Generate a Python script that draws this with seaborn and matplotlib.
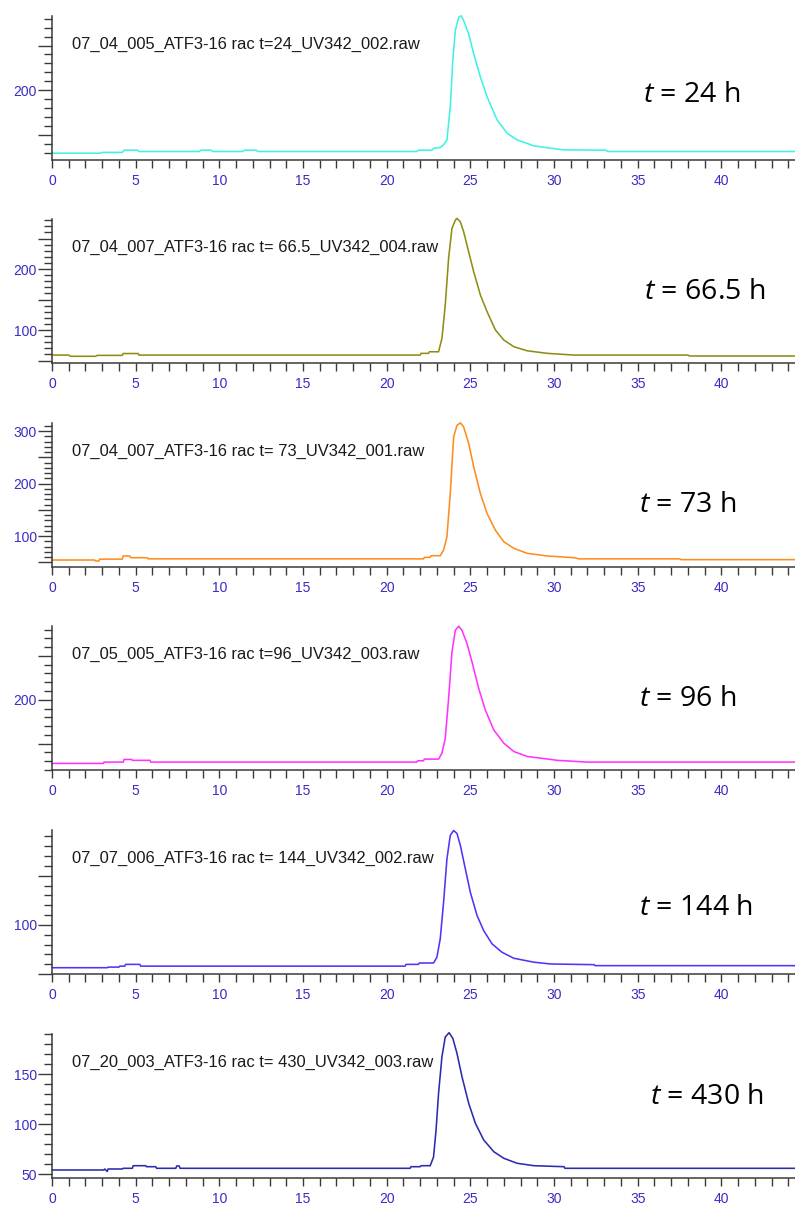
import numpy as np
import pandas as pd
import matplotlib
matplotlib.use('Agg')
import matplotlib.pyplot as plt
from matplotlib.ticker import MultipleLocator, FuncFormatter
import seaborn as sns

# retention time (min) and UV342 signal
t24_time = [0, 2.9, 3.0, 4.2, 4.3, 5.1, 5.2, 8.8, 8.9, 9.5, 9.6, 11.4, 11.5, 12.2, 12.3,
            21.8, 21.9, 22.7, 22.8, 23.2, 23.4, 23.6, 23.8, 23.95, 24.1, 24.3, 24.45,
            24.6, 24.9, 25.2, 25.6, 26.0, 26.6, 27.2, 27.8, 28.8, 29.8, 30.6, 33.1, 33.2, 44.5]
t24_signal = [129.6, 129.6, 130.5, 130.5, 133, 133, 131.5, 131.5, 133, 133, 131.5, 131.5, 133, 133, 131.5,
              131.5, 133, 133, 135, 136, 139, 144.4, 181.5, 233, 266.7, 281.5, 283.3,
              277.8, 263, 240.7, 214.8, 192.6, 166.7, 151.9, 144.4, 137.8, 135.2, 133.3, 133, 131.5, 131.5]

t66_time = [0, 1.0, 1.1, 2.6, 2.7, 4.2, 4.25, 5.15, 5.2,
            22.0, 22.05, 22.5, 22.55, 23.1,
            23.3, 23.5, 23.7, 23.9, 24.1, 24.2, 24.4, 24.6, 24.9, 25.2, 25.6, 26.0, 26.5,
            27.0, 27.6, 28.4, 29.6, 31.2, 38.0, 38.1, 44.5]
t66_signal = [59, 59, 57, 57, 58.5, 58.5, 61.5, 61.5, 59,
              59, 61.8, 61.8, 64.4, 64.4,
              86, 141, 217.5, 266.7, 280, 283, 277.5, 261, 228, 195.6, 157.4, 130, 100,
              83.6, 72.7, 66, 61.8, 59, 59, 57.5, 57.5]

t73_time = [0, 2.55, 2.6, 2.8, 2.85, 4.2, 4.25, 4.65, 4.7, 5.7, 5.75,
            22.2, 22.25, 22.6, 22.65, 23.2,
            23.4, 23.6, 23.8, 24.0, 24.2, 24.4, 24.6, 24.9, 25.2, 25.6, 26.0, 26.5,
            27.0, 27.6, 28.4, 29.6, 31.2, 31.5, 37.5, 37.6, 44.5]
t73_signal = [54.3, 54.3, 52.5, 52.5, 56, 56, 62, 62, 58.7, 58.7, 56.5,
              56.5, 59.4, 59.4, 62.5, 62.5,
              73.3, 98.7, 181, 289, 311, 315.8, 308, 276.6, 232, 181, 143, 111,
              89, 76.6, 67, 62, 58.7, 56.5, 56.5, 55, 55]

t96_time = [0, 3.08, 3.1, 4.27, 4.3, 4.76, 4.8, 5.86, 5.9,
            21.8, 21.85, 22.2, 22.25, 23.1,
            23.3, 23.5, 23.7, 23.9, 24.1, 24.3, 24.5, 24.8, 25.1, 25.5, 25.9, 26.4,
            27.0, 27.6, 28.4, 29.2, 30.2, 32.0, 44.5]
t96_signal = [127.5, 127.5, 129, 129, 132, 132, 131, 131, 129,
              129, 130.5, 130.5, 132.4, 132.4,
              139, 156, 201.5, 254, 279, 283.8, 279, 264, 243, 212.8, 188, 165.6,
              150.5, 141, 135.4, 133.5, 131, 129, 129]

t144_time = [0, 3.3, 3.35, 4.0, 4.05, 4.35, 4.4, 5.25, 5.3,
             21.1, 21.15, 21.9, 21.95, 22.8,
             23.0, 23.2, 23.4, 23.6, 23.8, 24.0, 24.2, 24.4, 24.7, 25.0, 25.4, 25.8,
             26.3, 26.9, 27.6, 28.8, 29.8, 32.4, 32.45, 44.5]
t144_signal = [56.4, 56.4, 57, 57, 58, 58, 59.8, 59.8, 58,
               58, 59.8, 59.8, 61.2, 61.2,
               67, 85.7, 123, 167, 191, 196, 193, 181, 157, 133, 109.5, 94,
               80.6, 72, 66, 62, 60.2, 59.5, 58.5, 58.5]

t430_time = [0, 3.1, 3.15, 3.3, 3.35, 4.2, 4.25, 4.8, 4.85, 5.6, 5.65, 6.2, 6.25,
             7.4, 7.45, 7.6, 7.65,
             21.4, 21.45, 22.0, 22.05, 22.6,
             22.8, 22.95, 23.1, 23.3, 23.5, 23.73, 23.95, 24.2, 24.5, 24.9, 25.3,
             25.8, 26.4, 27.0, 27.8, 28.8, 30.6, 30.65, 44.5]
t430_signal = [54, 54, 55, 52.5, 55, 55, 55.7, 55.7, 58.3, 58.3, 57.3, 57.3, 55.7,
               55.7, 58, 58, 55.7,
               55.7, 57.3, 57.3, 58.3, 58.3,
               67, 94, 130.7, 167, 187, 191.3, 185.7, 170.7, 147.3, 120.7, 100.7,
               84, 72.3, 65.7, 60.7, 58.3, 57.3, 55.7, 55.7]

file_names = ["07_04_005_ATF3-16 rac t=24_UV342_002.raw",
              "07_04_007_ATF3-16 rac t= 66.5_UV342_004.raw",
              "07_04_007_ATF3-16 rac t= 73_UV342_001.raw",
              "07_05_005_ATF3-16 rac t=96_UV342_003.raw",
              "07_07_006_ATF3-16 rac t= 144_UV342_002.raw",
              "07_20_003_ATF3-16 rac t= 430_UV342_003.raw"]
hours = ["24", "66.5", "73", "96", "144", "430"]

traces = [(t24_time, t24_signal), (t66_time, t66_signal), (t73_time, t73_signal),
          (t96_time, t96_signal), (t144_time, t144_signal), (t430_time, t430_signal)]

# layout / style
colors = ["#3ff2e2", "#8e8e16", "#ff8c1e", "#ff33ff", "#4f35f5", "#2b2bb0"]
ylims = [(122, 283), (46, 282), (41, 315.5), (120, 284), (50, 196.5), (46, 190)]
label_step = [100, 100, 100, 100, 100, 50]
axes_top = [16, 219, 423, 626, 830, 1034]
tag_x = [0.795, 0.797, 0.790, 0.790, 0.790, 0.805]
tag_y = [0.45, 0.49, 0.43, 0.49, 0.46, 0.56]

sns.set_style('ticks')
plt.rcParams['font.family'] = ['Liberation Sans', 'DejaVu Sans']
plt.rcParams['mathtext.fontset'] = 'custom'
plt.rcParams['mathtext.it'] = 'Open Sans:italic'
plt.rcParams['mathtext.rm'] = 'Open Sans'

W, H = 795, 1205
fig = plt.figure(figsize=(W / 100, H / 100), dpi=100)
fig.patch.set_facecolor('white')

tick_blue = '#3a2cc4'
axis_col = '#3a3a3a'

for i, (tt, ss) in enumerate(traces):
    top = axes_top[i]
    ax = fig.add_axes([52 / W, 1 - (top + 144) / H, 743 / W, 144 / H])
    df = pd.DataFrame({'time': tt, 'signal': ss})
    sns.lineplot(data=df, x='time', y='signal', ax=ax, color=colors[i], lw=1.15,
                 estimator=None, sort=False)
    for ln in ax.lines:
        ln.set_clip_on(False)

    ax.set_xlim(0, 44.4)
    ax.set_ylim(*ylims[i])
    ax.set_xlabel('')
    ax.set_ylabel('')

    ax.xaxis.set_major_locator(MultipleLocator(5))
    ax.xaxis.set_minor_locator(MultipleLocator(1))
    ax.yaxis.set_major_locator(MultipleLocator(50))
    ax.yaxis.set_minor_locator(MultipleLocator(10))
    step = label_step[i]
    ax.yaxis.set_major_formatter(FuncFormatter(
        lambda v, p, s=step: f"{v:.0f}" if abs(v / s - round(v / s)) < 1e-6 else ""))

    ax.tick_params(axis='y', which='major', length=10, width=1.0, pad=1,
                   labelsize=10, labelcolor=tick_blue, color=axis_col)
    ax.tick_params(axis='y', which='minor', length=5.8, width=1.0, color=axis_col)
    ax.tick_params(axis='x', which='both', length=6, width=1.0, pad=4,
                   labelsize=10, labelcolor=tick_blue, color=axis_col)

    for side in ['top', 'right']:
        ax.spines[side].set_visible(False)
    for side in ['left', 'bottom']:
        ax.spines[side].set_color(axis_col)
        ax.spines[side].set_linewidth(1.1)

    ax.text(0.027, 0.80, file_names[i], transform=ax.transAxes, fontsize=11.9,
            color='#1a1a1a', va='center', ha='left')
    ax.text(tag_x[i], tag_y[i], r'$t$ = ' + hours[i] + ' h', transform=ax.transAxes,
            fontsize=20.5, family='Open Sans', color='black', va='center', ha='left')

fig.savefig('out.png', dpi=100)
